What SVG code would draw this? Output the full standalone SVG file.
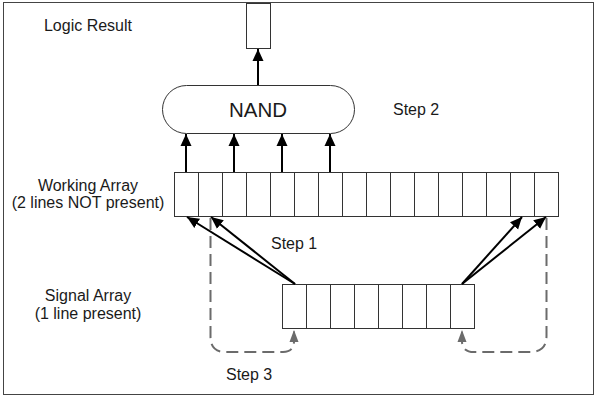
<svg xmlns="http://www.w3.org/2000/svg" width="597" height="399" viewBox="0 0 597 399">
  <style>
    .lbl { font-family: "Liberation Sans", Arial, sans-serif; font-size: 16px; fill: #1a1a1a; }
    .big { font-size: 20.5px; }
    .box { fill: #ffffff; stroke: #333333; stroke-width: 1; }
    .div { stroke: #333333; stroke-width: 1; }
    .arrow { stroke: #000000; stroke-width: 2; fill: none; marker-end: url(#headBlack); }
    .loop { stroke: #6b6b6b; stroke-width: 2; fill: none; stroke-dasharray: 12 6; marker-end: url(#headGray); }
  </style>
  <defs>
    <marker id="headBlack" markerUnits="userSpaceOnUse" markerWidth="12" markerHeight="12" viewBox="0 0 12 12" refX="12" refY="6" orient="auto">
      <path d="M0,0.5 L12,6 L0,11.5 z" fill="#000000"/>
    </marker>
    <marker id="headGray" markerUnits="userSpaceOnUse" markerWidth="12" markerHeight="10" viewBox="0 0 12 10" refX="12" refY="5" orient="auto">
      <path d="M0,0.5 L12,5 L0,9.5 z" fill="#6b6b6b"/>
    </marker>
  </defs>

  <!-- frame -->
  <rect x="3.5" y="2.5" width="590" height="392" fill="#ffffff" stroke="#444444" stroke-width="1"/>

  <!-- labels -->
  <g id="labels">
    <text class="lbl" x="88" y="31" text-anchor="middle">Logic Result</text>
    <text class="lbl" x="88" y="191" text-anchor="middle">Working Array</text>
    <text class="lbl" x="88" y="208" text-anchor="middle">(2 lines NOT present)</text>
    <text class="lbl" x="88" y="301" text-anchor="middle">Signal Array</text>
    <text class="lbl" x="88" y="319" text-anchor="middle">(1 line present)</text>
    <text class="lbl" x="393" y="115">Step 2</text>
    <text class="lbl" x="271" y="249">Step 1</text>
    <text class="lbl" x="226" y="380">Step 3</text>
  </g>

  <!-- result cell -->
  <g id="result">
    <rect class="box" x="246.5" y="3.5" width="24" height="45"/>
  </g>

  <!-- NAND gate -->
  <g id="nand">
    <rect class="box" x="162.5" y="85.5" width="192" height="48" rx="24" ry="24"/>
    <text class="lbl big" x="258" y="117" text-anchor="middle">NAND</text>
  </g>

  <!-- working array: 16 cells -->
  <g id="working-array">
    <rect class="box" x="174.5" y="172.5" width="384" height="44"/>
    <path class="div" d="M198.5,172.5V216.5 M222.5,172.5V216.5 M246.5,172.5V216.5 M270.5,172.5V216.5 M294.5,172.5V216.5 M318.5,172.5V216.5 M342.5,172.5V216.5 M366.5,172.5V216.5 M390.5,172.5V216.5 M414.5,172.5V216.5 M438.5,172.5V216.5 M462.5,172.5V216.5 M486.5,172.5V216.5 M510.5,172.5V216.5 M534.5,172.5V216.5"/>
  </g>

  <!-- signal array: 8 cells -->
  <g id="signal-array">
    <rect class="box" x="282.5" y="284.5" width="192" height="44"/>
    <path class="div" d="M306.5,284.5V328.5 M330.5,284.5V328.5 M354.5,284.5V328.5 M378.5,284.5V328.5 M402.5,284.5V328.5 M426.5,284.5V328.5 M450.5,284.5V328.5"/>
  </g>

  <!-- connectors -->
  <g id="connectors">
    <path class="arrow" d="M258,85 V49"/>
    <path class="arrow" d="M186,172 V134"/>
    <path class="arrow" d="M234,172 V134"/>
    <path class="arrow" d="M282,172 V134"/>
    <path class="arrow" d="M330,172 V134"/>
    <path class="arrow" d="M295,284 L187,217"/>
    <path class="arrow" d="M295,284 L211,217"/>
    <path class="arrow" d="M462,284 L522,217"/>
    <path class="arrow" d="M462,284 L546,217"/>
    <path class="loop" d="M210.5,218 V337 Q210.5,352 225.5,352 H283 Q294,352 294,341 V330"/>
    <path class="loop" d="M546.5,218 V336 Q546.5,352 530.5,352 H474 Q462,352 462,341 V330"/>
  </g>
</svg>
